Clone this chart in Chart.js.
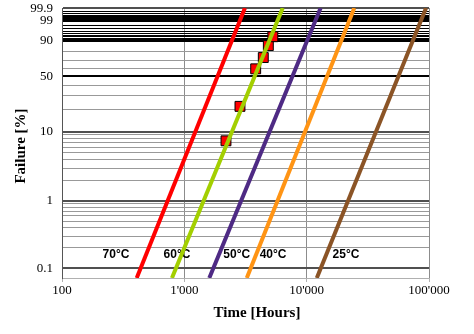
<!DOCTYPE html>
<html>
<head>
<meta charset="utf-8">
<script src="https://cdn.jsdelivr.net/npm/chart.js@4.4.0/dist/chart.umd.min.js"></script>
<style>
  html, body { margin: 0; padding: 0; background: #fff; }
  canvas { display: block; }
</style>
</head>
<body>
<canvas id="weibullChart" width="474" height="334"></canvas>
<script>
// failure limits of the plot [%]
const failMin = 0.072;
const failMax = 99.915;

const temps = ['70°C', '60°C', '50°C', '40°C', '25°C'];
const lineColors = ['#ff0000', '#a3cf00', '#4e2a84', '#ff9414', '#8b5426'];
// time [h] where each fitted line reaches failMin / failMax
const startTimes = [408, 792, 1600, 3240, 12100];
const endTimes = [3130, 6370, 13000, 24500, 94600];

// measured failures (red squares)
const testTimes = [2190, 2850, 3830, 4420, 4860, 5290];
const testFailures = [7.4, 22, 59, 73, 86, 93];

const xTicks = [100, 1000, 10000, 100000];
const yLabels = [0.1, 1, 10, 50, 90, 99, 99.9];
const yGrid = [
    0.1, 0.2, 0.3, 0.4, 0.5, 0.6, 0.7, 0.8, 0.9,
    1, 2, 3, 4, 5, 6, 7, 8, 9,
    10, 20, 30, 40, 50, 60, 70, 80, 90,
    91, 92, 93, 94, 95, 96, 97, 98, 99,
    99.1, 99.2, 99.3, 99.4, 99.5, 99.6, 99.7, 99.8, 99.9
];

// temperature labels sit at these times
const labelTimes = [276, 871, 2680, 5310, 20970];
const labelFailure = 0.16;

// weibull paper: ln(-ln(1-F))
function weib(p) {
    return Math.log(-Math.log(1 - p / 100));
}

function fmtThousands(v) {
    return String(Math.round(v)).replace(/\B(?=(\d{3})+(?!\d))/g, "'");
}

function gridStyle(f) {
    if (f === null) return ['#505050', 2]; // top frame
    if (f === 50 || f === 90 || f === 99) return ['#000000', 2];
    if (f > 90) return ['#000000', 1];
    if (f === 0.1 || f === 1 || f === 10) return ['#505050', 2];
    return ['#999999', 1];
}

const lineSets = temps.map((t, i) => ({
    label: t,
    data: [
        { x: startTimes[i], y: weib(failMin) },
        { x: endTimes[i], y: weib(failMax) }
    ],
    showLine: true,
    borderColor: lineColors[i],
    borderWidth: 4,
    pointRadius: 0,
    order: 0
}));

const testSet = {
    label: 'tests',
    data: testTimes.map((t, i) => ({ x: t, y: weib(testFailures[i]) })),
    showLine: false,
    pointStyle: 'rect',
    pointRadius: 7,
    backgroundColor: '#ff0000',
    borderColor: '#000000',
    borderWidth: 1,
    order: 1
};

const textPlugin = {
    id: 'texts',
    beforeDatasetsDraw(chart) {
        const { ctx, scales: { x, y } } = chart;
        ctx.save();
        ctx.font = 'bold 12px "Liberation Sans"';
        ctx.fillStyle = '#000';
        ctx.textAlign = 'center';
        ctx.textBaseline = 'middle';
        temps.forEach((t, i) => {
            ctx.fillText(t, x.getPixelForValue(labelTimes[i]), y.getPixelForValue(weib(labelFailure)));
        });
        ctx.restore();
    },
    afterDraw(chart) {
        const ctx = chart.ctx;
        ctx.save();
        ctx.font = 'bold 15px "Liberation Serif"';
        ctx.fillStyle = '#000';
        ctx.textAlign = 'center';
        ctx.textBaseline = 'middle';
        ctx.fillText('Time [Hours]', 257, 313);
        ctx.translate(21.5, 146);
        ctx.rotate(-Math.PI / 2);
        ctx.fillText('Failure [%]', 0, 0);
        ctx.restore();
    }
};

Chart.defaults.font.family = '"Liberation Serif"';
Chart.defaults.color = '#000';

new Chart(document.getElementById('weibullChart').getContext('2d'), {
    type: 'scatter',
    data: { datasets: [...lineSets, testSet] },
    options: {
        responsive: false,
        animation: false,
        devicePixelRatio: 1,
        layout: { padding: { top: 7, right: 45, left: 0, bottom: 0 } },
        plugins: { legend: { display: false }, tooltip: { enabled: false } },
        scales: {
            x: {
                type: 'logarithmic',
                min: 100,
                max: 100000,
                afterBuildTicks: scale => {
                    scale.ticks = xTicks.map(v => ({ value: v }));
                },
                afterFit: scale => {
                    scale.height = 56;
                    scale.paddingLeft = 0;
                    scale.paddingRight = 0;
                },
                ticks: {
                    autoSkip: false,
                    maxRotation: 0,
                    padding: 1,
                    font: { size: 13 },
                    callback: v => fmtThousands(v)
                },
                grid: { color: '#8c8c8c', lineWidth: 1, tickLength: 4, tickColor: '#b0b0b0' },
                border: { color: '#b0b0b0', width: 1 }
            },
            y: {
                type: 'linear',
                min: weib(failMin),
                max: weib(failMax),
                afterBuildTicks: scale => {
                    const ticks = yGrid.map(f => ({ value: weib(f), f: f }));
                    ticks.push({ value: weib(failMax), f: null });
                    scale.ticks = ticks;
                },
                afterFit: scale => {
                    scale.width = 62;
                    scale.paddingTop = 0;
                    scale.paddingBottom = 0;
                },
                ticks: {
                    autoSkip: false,
                    padding: 9,
                    font: { size: 13 },
                    callback: (v, i, ticks) => {
                        const f = ticks[i].f;
                        return yLabels.includes(f) ? String(f) : '';
                    }
                },
                grid: {
                    drawTicks: false,
                    color: c => gridStyle(c.tick ? c.tick.f : null)[0],
                    lineWidth: c => gridStyle(c.tick ? c.tick.f : null)[1]
                },
                border: { color: '#555555', width: 1 }
            }
        }
    },
    plugins: [textPlugin]
});
</script>
</body>
</html>
